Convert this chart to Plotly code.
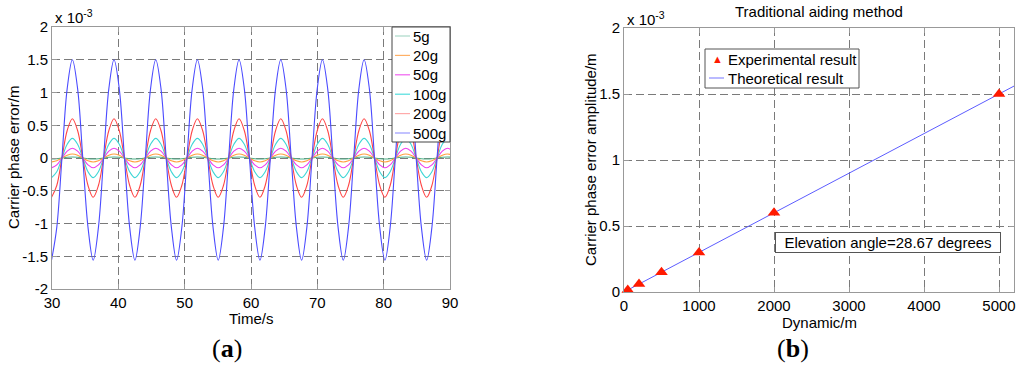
import plotly.graph_objects as go

W, H = 1024, 366

# ---------------- data: panel (a) ----------------
TIME = [
    29.93, 30.72, 31.50, 32.29, 33.07, 33.86, 34.64, 35.43,
    36.21, 37.00, 37.78, 38.57, 39.35, 40.14, 40.92, 41.71,
    42.50, 43.29, 44.07, 44.86, 45.64, 46.43, 47.21, 48.00,
    48.78, 49.57, 50.35, 51.14, 51.92, 52.71, 53.49, 54.28,
    55.06, 55.85, 56.63, 57.42, 58.20, 58.99, 59.77, 60.56,
    61.35, 62.14, 62.92, 63.71, 64.49, 65.28, 66.06, 66.85,
    67.63, 68.42, 69.20, 69.99, 70.77, 71.56, 72.34, 73.13,
    73.91, 74.70, 75.48, 76.27, 77.05, 77.84, 78.62, 79.41,
    80.19, 80.98, 81.76, 82.55, 83.33, 84.12, 84.90, 85.69,
    86.48, 87.27, 88.05, 88.84, 89.62, 90.41, 91.19, 91.98,
]

ERR_5G = [
    -0.015, -0.011, 0, 0.011, 0.015, 0.011, 0, -0.011,
    -0.015, -0.011, 0, 0.011, 0.015, 0.011, 0, -0.011,
    -0.015, -0.011, 0, 0.011, 0.015, 0.011, 0, -0.011,
    -0.015, -0.011, 0, 0.011, 0.015, 0.011, 0, -0.011,
    -0.015, -0.011, 0, 0.011, 0.015, 0.011, 0, -0.011,
    -0.015, -0.011, 0, 0.011, 0.015, 0.011, 0, -0.011,
    -0.015, -0.011, 0, 0.011, 0.015, 0.011, 0, -0.011,
    -0.015, -0.011, 0, 0.011, 0.015, 0.011, 0, -0.011,
    -0.015, -0.011, 0, 0.011, 0.015, 0.011, 0, -0.011,
    -0.015, -0.011, 0, 0.011, 0.015, 0.011, 0, -0.011,
]
ERR_20G = [
    -0.06, -0.042, 0, 0.042, 0.06, 0.042, 0, -0.042,
    -0.06, -0.042, 0, 0.042, 0.06, 0.042, 0, -0.042,
    -0.06, -0.042, 0, 0.042, 0.06, 0.042, 0, -0.042,
    -0.06, -0.042, 0, 0.042, 0.06, 0.042, 0, -0.042,
    -0.06, -0.042, 0, 0.042, 0.06, 0.042, 0, -0.042,
    -0.06, -0.042, 0, 0.042, 0.06, 0.042, 0, -0.042,
    -0.06, -0.042, 0, 0.042, 0.06, 0.042, 0, -0.042,
    -0.06, -0.042, 0, 0.042, 0.06, 0.042, 0, -0.042,
    -0.06, -0.042, 0, 0.042, 0.06, 0.042, 0, -0.042,
    -0.06, -0.042, 0, 0.042, 0.06, 0.042, 0, -0.042,
]
ERR_50G = [
    -0.15, -0.106, 0, 0.106, 0.15, 0.106, 0, -0.106,
    -0.15, -0.106, 0, 0.106, 0.15, 0.106, 0, -0.106,
    -0.15, -0.106, 0, 0.106, 0.15, 0.106, 0, -0.106,
    -0.15, -0.106, 0, 0.106, 0.15, 0.106, 0, -0.106,
    -0.15, -0.106, 0, 0.106, 0.15, 0.106, 0, -0.106,
    -0.15, -0.106, 0, 0.106, 0.15, 0.106, 0, -0.106,
    -0.15, -0.106, 0, 0.106, 0.15, 0.106, 0, -0.106,
    -0.15, -0.106, 0, 0.106, 0.15, 0.106, 0, -0.106,
    -0.15, -0.106, 0, 0.106, 0.15, 0.106, 0, -0.106,
    -0.15, -0.106, 0, 0.106, 0.15, 0.106, 0, -0.106,
]
ERR_100G = [
    -0.30, -0.21, 0, 0.21, 0.30, 0.21, 0, -0.21,
    -0.30, -0.21, 0, 0.21, 0.30, 0.21, 0, -0.21,
    -0.30, -0.21, 0, 0.21, 0.30, 0.21, 0, -0.21,
    -0.30, -0.21, 0, 0.21, 0.30, 0.21, 0, -0.21,
    -0.30, -0.21, 0, 0.21, 0.30, 0.21, 0, -0.21,
    -0.30, -0.21, 0, 0.21, 0.30, 0.21, 0, -0.21,
    -0.30, -0.21, 0, 0.21, 0.30, 0.21, 0, -0.21,
    -0.30, -0.21, 0, 0.21, 0.30, 0.21, 0, -0.21,
    -0.30, -0.21, 0, 0.21, 0.30, 0.21, 0, -0.21,
    -0.30, -0.21, 0, 0.21, 0.30, 0.21, 0, -0.21,
]
ERR_200G = [
    -0.60, -0.42, 0, 0.42, 0.60, 0.42, 0, -0.42,
    -0.60, -0.42, 0, 0.42, 0.60, 0.42, 0, -0.42,
    -0.60, -0.42, 0, 0.42, 0.60, 0.42, 0, -0.42,
    -0.60, -0.42, 0, 0.42, 0.60, 0.42, 0, -0.42,
    -0.60, -0.42, 0, 0.42, 0.60, 0.42, 0, -0.42,
    -0.60, -0.42, 0, 0.42, 0.60, 0.42, 0, -0.42,
    -0.60, -0.42, 0, 0.42, 0.60, 0.42, 0, -0.42,
    -0.60, -0.42, 0, 0.42, 0.60, 0.42, 0, -0.42,
    -0.60, -0.42, 0, 0.42, 0.60, 0.42, 0, -0.42,
    -0.60, -0.42, 0, 0.42, 0.60, 0.42, 0, -0.42,
]
ERR_500G = [
    -1.56, -1.06, 0, 1.06, 1.50, 1.06, 0, -1.06,
    -1.56, -1.06, 0, 1.06, 1.50, 1.06, 0, -1.06,
    -1.56, -1.06, 0, 1.06, 1.50, 1.06, 0, -1.06,
    -1.56, -1.06, 0, 1.06, 1.50, 1.06, 0, -1.06,
    -1.56, -1.06, 0, 1.06, 1.50, 1.06, 0, -1.06,
    -1.56, -1.06, 0, 1.06, 1.50, 1.06, 0, -1.06,
    -1.56, -1.06, 0, 1.06, 1.50, 1.06, 0, -1.06,
    -1.56, -1.06, 0, 1.06, 1.50, 1.06, 0, -1.06,
    -1.56, -1.06, 0, 1.06, 1.50, 1.06, 0, -1.06,
    -1.56, -1.06, 0, 1.06, 1.50, 1.06, 0, -1.06,
]

SERIES_NAMES = ["5g", "20g", "50g", "100g", "200g", "500g"]
SERIES_VALUES = [ERR_5G, ERR_20G, ERR_50G, ERR_100G, ERR_200G, ERR_500G]
SERIES_COLORS = ["#4faf88", "#ff9f3f", "#ee3fee", "#3fd6d6", "#ff4545", "#4b4bff"]
LEGEND_COLORS = ["#aad9c8", "#ffb066", "#f060f0", "#50dede", "#ffaaaa", "#9a9aff"]

A_XTICKS = [30, 40, 50, 60, 70, 80, 90]
A_YTICKS = [-2, -1.5, -1, -0.5, 0, 0.5, 1, 1.5, 2]
A_YTICKTEXT = ["-2", "-1.5", "-1", "-0.5", "0", "0.5", "1", "1.5", "2"]

# ---------------- data: panel (b) ----------------
DYNAMIC = [50, 200, 500, 1000, 2000, 5000]
AMPLITUDE = [0.015, 0.06, 0.15, 0.30, 0.60, 1.50]
THEORY_X = [0, 5200]
THEORY_Y = [0, 1.56]

B_XTICKS = [0, 1000, 2000, 3000, 4000, 5000]
B_YTICKS = [0, 0.5, 1, 1.5, 2]
B_YTICKTEXT = ["0", "0.5", "1", "1.5", "2"]


def px(x):
    return x / W


def py(y):
    return 1 - y / H


FONT = "Liberation Sans, Arial, sans-serif"
GRID = "#7a7a7a"
FRAME = "#999999"

fig = go.Figure()

for name, vals, col in zip(SERIES_NAMES, SERIES_VALUES, SERIES_COLORS):
    fig.add_trace(go.Scatter(
        x=TIME, y=vals, mode="lines", name=name,
        line=dict(color=col, width=1.1, shape="spline", smoothing=1.0),
        xaxis="x", yaxis="y", showlegend=False,
    ))

fig.add_trace(go.Scatter(
    x=THEORY_X, y=THEORY_Y, mode="lines", name="Theoretical result",
    line=dict(color="#5c5cff", width=1), xaxis="x2", yaxis="y2", showlegend=False,
))
fig.add_trace(go.Scatter(
    x=DYNAMIC, y=AMPLITUDE, mode="markers", name="Experimental result",
    marker=dict(symbol="triangle-up", color="#ff1a00", size=11,
                line=dict(width=0)),
    xaxis="x2", yaxis="y2", showlegend=False, cliponaxis=False,
))

axis_common = dict(
    showline=True, linecolor=FRAME, linewidth=1, mirror="ticks",
    ticks="inside", ticklen=5, tickcolor=FRAME,
    showgrid=True, gridcolor=GRID, griddash="8px,4px", gridwidth=1,
    zeroline=False, tickfont=dict(family=FONT, size=15, color="black"),
    ticklabelstandoff=0, automargin=False,
)

fig.update_layout(
    width=W, height=H,
    margin=dict(l=0, r=0, t=0, b=0, autoexpand=False),
    paper_bgcolor="white", plot_bgcolor="white",
    showlegend=False,
    xaxis=dict(domain=[px(52), px(450)], range=[30, 90], tickvals=A_XTICKS,
               anchor="y", **axis_common),
    yaxis=dict(domain=[py(289), py(27)], range=[-2, 2], tickvals=A_YTICKS,
               ticktext=A_YTICKTEXT, anchor="x", **axis_common),
    xaxis2=dict(domain=[px(624), px(1014)], range=[0, 5200], tickvals=B_XTICKS,
                anchor="y2", **axis_common),
    yaxis2=dict(domain=[py(292), py(28)], range=[0, 2], tickvals=B_YTICKS,
                ticktext=B_YTICKTEXT, anchor="x2", **axis_common),
)

ann = []
shapes = []

def text(x, y, s, size=15, xanchor="center", yanchor="middle", angle=0,
         family=FONT, color="black", **kw):
    ann.append(dict(x=px(x), y=py(y), xref="paper", yref="paper", text=s,
                    showarrow=False, xanchor=xanchor, yanchor=yanchor,
                    textangle=angle,
                    font=dict(family=family, size=size, color=color), **kw))

# axis titles
text(251, 318, "Time/s")
text(13, 158, "Carrier phase error/m", angle=-90)
text(819, 322, "Dynamic/m")
text(590, 160, "Carrier phase error amplitude/m", angle=-90)
text(819, 11, "Traditional aiding method")
# exponent labels
text(53, 16, "x 10<sup>-3</sup>", xanchor="left")
text(625, 18, "x 10<sup>-3</sup>", xanchor="left")
# captions
text(227, 348, "(<b>a</b>)", size=26, family="Liberation Serif, DejaVu Serif, serif")
text(793, 348, "(<b>b</b>)", size=26, family="Liberation Serif, DejaVu Serif, serif")

# elevation angle box
ann.append(dict(x=px(888), y=py(243), xref="paper", yref="paper",
                text="Elevation angle=28.67 degrees", showarrow=False,
                xanchor="center", yanchor="middle",
                font=dict(family=FONT, size=15, color="black"),
                bgcolor="white", bordercolor="#555555", borderwidth=1,
                borderpad=1, width=222))

# legend (a)
shapes.append(dict(type="rect", xref="paper", yref="paper",
                   x0=px(392), x1=px(450), y0=py(142), y1=py(27),
                   fillcolor="white", line=dict(color="#444444", width=1),
                   layer="above"))
for i, (name, col) in enumerate(zip(SERIES_NAMES, LEGEND_COLORS)):
    yy = 36 + 19.4 * i
    shapes.append(dict(type="line", xref="paper", yref="paper",
                       x0=px(395), x1=px(410), y0=py(yy), y1=py(yy),
                       line=dict(color=col, width=1.2), layer="above"))
    text(411, yy, name, xanchor="left")

# legend (b)
shapes.append(dict(type="rect", xref="paper", yref="paper",
                   x0=px(705), x1=px(859), y0=py(88), y1=py(49),
                   fillcolor="white", line=dict(color="#555555", width=1),
                   layer="above"))
text(717, 59, "▲", size=11, color="#ff1a00")
text(726, 59, "Experimental result", xanchor="left")
shapes.append(dict(type="line", xref="paper", yref="paper",
                   x0=px(709), x1=px(724), y0=py(78), y1=py(78),
                   line=dict(color="#8c8cff", width=1.2), layer="above"))
text(726, 78, "Theoretical result", xanchor="left")

fig.update_layout(annotations=ann, shapes=shapes)

fig.write_html("out.html",
               config={"displayModeBar": False},
               post_script="document.body.style.margin='0';"
                           "document.body.style.padding='0';")
